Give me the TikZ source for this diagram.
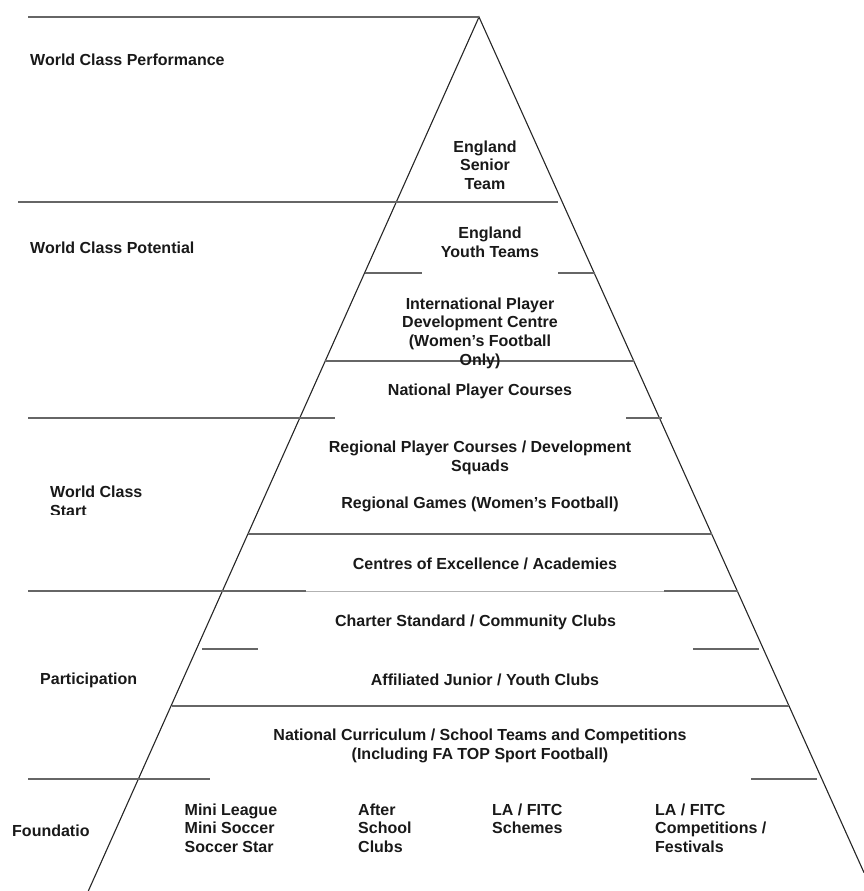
\documentclass[tikz,border=0pt]{standalone}
\usepackage{fontspec}
\setmainfont{Liberation Sans}
\begin{document}
\begin{tikzpicture}[x=1pt,y=-1pt,
  edge/.style={line width=1.1pt, draw=black!85},
  band/.style={line width=2pt, draw=black!60},
  faint/.style={line width=0.8pt, draw=black!30},
  lbl/.style={font=\fontsize{16}{18.6}\selectfont\bfseries, inner sep=0pt, align=center, text=black!90},
  side/.style={lbl, anchor=west, align=left}]
\useasboundingbox (0,0) rectangle (864,891);

% pyramid outline
\coordinate (apex) at (479,17);
\coordinate (bl) at (88.3,891);
\coordinate (br) at (864,872.6);
\draw[edge] (bl) -- (apex) -- (br);

% level dividers
\draw[band] (28,17) -- (apex);
\draw[band] (18,202) -- (558,202);
\draw[band] (364.6,273) -- (422,273);
\draw[band] (558,273) -- (594.6,273);
\draw[band] (325,361) -- (633.8,361);
\draw[band] (28,418) -- (335,418);
\draw[band] (626,418) -- (661.5,418);
\draw[band] (248,534) -- (712,534);
\draw[band] (28,591) -- (306,591);
\draw[faint] (306,591) -- (664,591);
\draw[band] (664,591) -- (737.6,591);
\draw[band] (202,649) -- (258,649);
\draw[band] (693,649) -- (759,649);
\draw[band] (172,706) -- (789,706);
\draw[band] (28,779) -- (210,779);
\draw[band] (751,779) -- (817,779);

% side labels
\node[side] (wcp) at (30,60) {World Class Performance};
\node[side] (wcpot) at (30,248) {World Class Potential};
\begin{scope}
  \clip (0,470) rectangle (250,514.3);
  \node[side] (wcs) at (50,501) {World Class\\Start};
\end{scope}
\node[side] (part) at (40,680) {Participation};
\node[side] (found) at (12,831) {Foundatio};

% pyramid labels
\node[lbl] (senior) at (485,165) {England\\Senior\\Team};
\node[lbl] (youth) at (490,242) {England\\Youth Teams};
\node[lbl] (ipdc) at (480,333) {International Player\\Development Centre\\(Women’s Football\\Only)};
\node[lbl] (npc) at (480,391) {National Player Courses};
\node[lbl] (rpc) at (480,458) {Regional Player Courses / Development\\Squads};
\node[lbl] (rg) at (480,504) {Regional Games (Women’s Football)};
\node[lbl] (coe) at (485,564) {Centres of Excellence / Academies};
\node[lbl] (csc) at (475.5,622) {Charter Standard / Community Clubs};
\node[lbl] (ajy) at (485,680) {Affiliated Junior / Youth Clubs};
\node[lbl] (nc) at (480,746) {National Curriculum / School Teams and Competitions\\(Including FA TOP Sport Football)};

% foundation columns
\node[side] (mini) at (184.5,828) {Mini League\\Mini Soccer\\Soccer Star};
\node[side] (after) at (358,828) {After\\School\\Clubs};
\node[side, anchor=north west] (schemes) at (492,803.5) {LA / FITC\\Schemes};
\node[side] (comps) at (655,828) {LA / FITC\\Competitions /\\Festivals};
\end{tikzpicture}
\end{document}
